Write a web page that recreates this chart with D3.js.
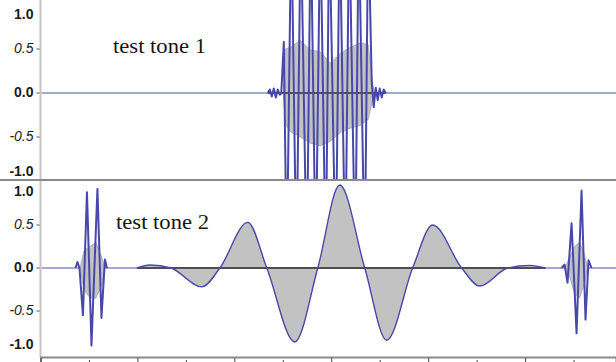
<!DOCTYPE html>
<html>
<head>
<meta charset="utf-8">
<script src="https://cdn.jsdelivr.net/npm/d3@7"></script>
<style>
  body { margin: 0; background: #fff; }
  svg { display: block; }
  .amp text { font-family: 'Liberation Sans', Arial, sans-serif; font-size: 14px; fill: #1a1a1a; }
  .title { font-family: 'Liberation Serif', 'Times New Roman', serif; font-size: 20px; fill: #151515; }
</style>
</head>
<body>
<svg id="chart" width="616" height="362"></svg>
<script>
// time ruler, one unit per minor division
const timeTicks = d3.range(0, 12)
const ampTicks = [1.0, 0.5, 0.0, -0.5, -1.0]
const trackTitles = ['test tone 1', 'test tone 2']

// test tone 1 : peaks [t, value] (values past 1.0 are clipped off the track)
const tone1Peaks = [
  [4.691, 0], [4.732, 0.04], [4.773, -0.04], [4.814, 0.05], [4.856, -0.05], [4.897, 0.04],
  [4.938, -0.02], [4.969, 0], [5.021, 0.58], [5.082, -2], [5.175, 2], [5.282, -2],
  [5.371, 2], [5.495, -2], [5.577, 2], [5.680, -2], [5.773, 2], [5.887, -2],
  [5.959, 2], [6.093, -2], [6.175, 2], [6.289, -2], [6.371, 2], [6.495, -2],
  [6.567, 2], [6.691, -2], [6.763, 2], [6.835, 0.12], [6.876, -0.16], [6.918, 0.06],
  [6.959, -0.08], [7.000, 0.05], [7.041, -0.05], [7.082, 0.04], [7.124, 0]
]
// test tone 1 : rms band [t, high, low]
const tone1Rms = [
  [5.010, 0, 0], [5.052, 0.5, -0.35], [5.155, 0.52, -0.44], [5.361, 0.6, -0.5],
  [5.567, 0.49, -0.57], [5.773, 0.47, -0.6], [5.979, 0.34, -0.55], [6.186, 0.45, -0.45],
  [6.392, 0.52, -0.4], [6.598, 0.57, -0.37], [6.763, 0.55, -0.3], [6.845, 0.15, -0.1],
  [6.887, 0, 0]
]

// test tone 2 : slow wave [t, value]
const tone2Wave = [
  [1.990, 0], [2.258, 0.035], [2.691, 0], [3.330, -0.22], [3.701, 0], [4.278, 0.53],
  [4.670, 0], [5.247, -0.86], [5.722, 0], [6.175, 0.965], [6.691, 0], [7.144, -0.84],
  [7.680, 0], [8.093, 0.5], [8.691, 0], [9.062, -0.21], [9.639, 0], [10.093, 0.03],
  [10.423, 0]
]
// test tone 2 : short clicks either side
const tone2LeftPeaks = [
  [0.722, 0], [0.763, 0.07], [0.804, 0], [0.876, -0.55], [0.959, 0.88], [1.052, -0.9],
  [1.175, 0.92], [1.258, -0.58], [1.330, 0.1], [1.371, 0]
]
const tone2LeftRms = [
  [0.814, 0, 0], [0.897, 0.2, -0.25], [1.021, 0.25, -0.35], [1.144, 0.3, -0.35],
  [1.268, 0.12, -0.2], [1.330, 0, 0]
]
const tone2RightPeaks = [
  [10.753, 0], [10.814, 0.04], [10.876, -0.17], [10.959, 0.52], [11.062, -0.76],
  [11.165, 0.9], [11.247, -0.6], [11.309, 0.09], [11.371, 0]
]
const tone2RightRms = [
  [10.814, 0, 0], [10.918, 0.12, -0.1], [11.021, 0.25, -0.3], [11.124, 0.3, -0.35],
  [11.227, 0.15, -0.18], [11.289, 0, 0]
]

const width = 616
const height = 362
const axisX = 40.5
const rulerY = 357

const waveColor = '#4848aa'
const rmsColor = '#c2c2c2'

const x = d3.scaleLinear().domain([0, 11.876]).range([axisX, width])

const tracks = [
  { top: 0, bottom: 179, y: d3.scaleLinear().domain([-1, 1]).range([181, 5]),
    title: trackTitles[0], titlePos: [113, 53],
    peaks: [tone1Peaks], rms: [tone1Rms], wave: null, dark: [4.69, 7.12] },
  { top: 181, bottom: 356, y: d3.scaleLinear().domain([-1, 1]).range([354, 182]),
    title: trackTitles[1], titlePos: [116, 229],
    peaks: [tone2LeftPeaks, tone2RightPeaks], rms: [tone2LeftRms, tone2RightRms],
    wave: tone2Wave, dark: [1.99, 10.42] }
]

const svg = d3.select('#chart')

function drawTrack(t, i) {
  var y = t.y
  var clipId = 'clip' + i

  svg.append('clipPath')
    .attr('id', clipId)
   .append('rect')
    .attr('x', axisX + 1)
    .attr('y', t.top)
    .attr('width', width - axisX)
    .attr('height', t.bottom - t.top)

  var g = svg.append('g')
    .attr('clip-path', 'url(#' + clipId + ')')

  // zero line
  g.append('line')
    .attr('x1', axisX).attr('x2', width)
    .attr('y1', y(0)).attr('y2', y(0))
    .attr('stroke', '#5252ae')
    .attr('stroke-width', 1.2)

  var rmsArea = d3.area()
    .x(d => x(d[0]))
    .y0(d => y(d[2]))
    .y1(d => y(d[1]))

  t.rms.forEach(r => {
    g.append('path')
      .attr('d', rmsArea(r))
      .attr('fill', rmsColor)
      .attr('stroke', '#8e8ec4')
      .attr('stroke-width', 0.6)
  })

  if (t.wave) {
    g.append('path')
      .attr('d', d3.area().x(d => x(d[0])).y0(y(0)).y1(d => y(d[1])).curve(d3.curveMonotoneX)(t.wave))
      .attr('fill', rmsColor)
  }

  g.append('line')
    .attr('x1', x(t.dark[0])).attr('x2', x(t.dark[1]))
    .attr('y1', y(0)).attr('y2', y(0))
    .attr('stroke', '#2b2b2b')
    .attr('stroke-width', 1.4)

  if (t.wave) {
    g.append('path')
      .attr('d', d3.line().x(d => x(d[0])).y(d => y(d[1])).curve(d3.curveMonotoneX)(t.wave))
      .attr('fill', 'none')
      .attr('stroke', waveColor)
      .attr('stroke-width', 1.4)
  }

  var peakLine = d3.line()
    .x(d => x(d[0]))
    .y(d => y(d[1]))

  t.peaks.forEach(p => {
    g.append('path')
      .attr('d', peakLine(p))
      .attr('fill', 'none')
      .attr('stroke', waveColor)
      .attr('stroke-width', 2)
      .attr('stroke-linejoin', 'round')
  })

  // amplitude axis, end labels pulled inside the track
  var amp = svg.append('g')
    .attr('class', 'amp')
    .attr('transform', 'translate(' + axisX + ',0)')
    .call(d3.axisLeft(y).tickValues(ampTicks).tickSize(4).tickPadding(3).tickFormat(d => d.toFixed(1)))

  amp.select('.domain').remove()
  amp.selectAll('.tick')
    .attr('transform', d => 'translate(0,' + (d === 1 ? y(d) + 10 : d === -1 ? y(d) - 9 : y(d)) + ')')
  amp.selectAll('.tick line')
    .attr('stroke', '#555')
    .attr('opacity', d => Math.abs(d) === 1 ? 0 : 1)
  amp.selectAll('.tick text')
    .attr('font-weight', d => d % 1 ? 'normal' : 'bold')
    .attr('font-style', d => d % 1 ? 'italic' : 'normal')
    .attr('fill', d => d % 1 ? '#3a3a3a' : '#1a1a1a')

  svg.append('text')
    .attr('class', 'title')
    .attr('x', t.titlePos[0])
    .attr('y', t.titlePos[1])
    .attr('textLength', 93)
    .attr('lengthAdjust', 'spacingAndGlyphs')
    .text(t.title)
}

tracks.forEach(drawTrack)

// frame: left edge of the wave area and track separators
svg.append('line')
  .attr('x1', axisX).attr('x2', axisX)
  .attr('y1', 0).attr('y2', rulerY)
  .attr('stroke', '#c4c4c4')
  .attr('stroke-width', 2)

svg.append('line')
  .attr('x1', 0).attr('x2', width)
  .attr('y1', 180).attr('y2', 180)
  .attr('stroke', '#8a8a8a')
  .attr('stroke-width', 2)

// time ruler
var ruler = svg.append('g')
  .attr('transform', 'translate(0,' + rulerY + ')')
  .call(d3.axisBottom(x).tickValues(timeTicks).tickSize(6).tickFormat(''))

ruler.select('.domain')
  .attr('stroke', '#8a8a8a')
  .attr('stroke-width', 2)
ruler.selectAll('.tick line')
  .attr('stroke', '#444')
  .attr('y1', d => d % 2 ? 3 : 1)
</script>
</body>
</html>
